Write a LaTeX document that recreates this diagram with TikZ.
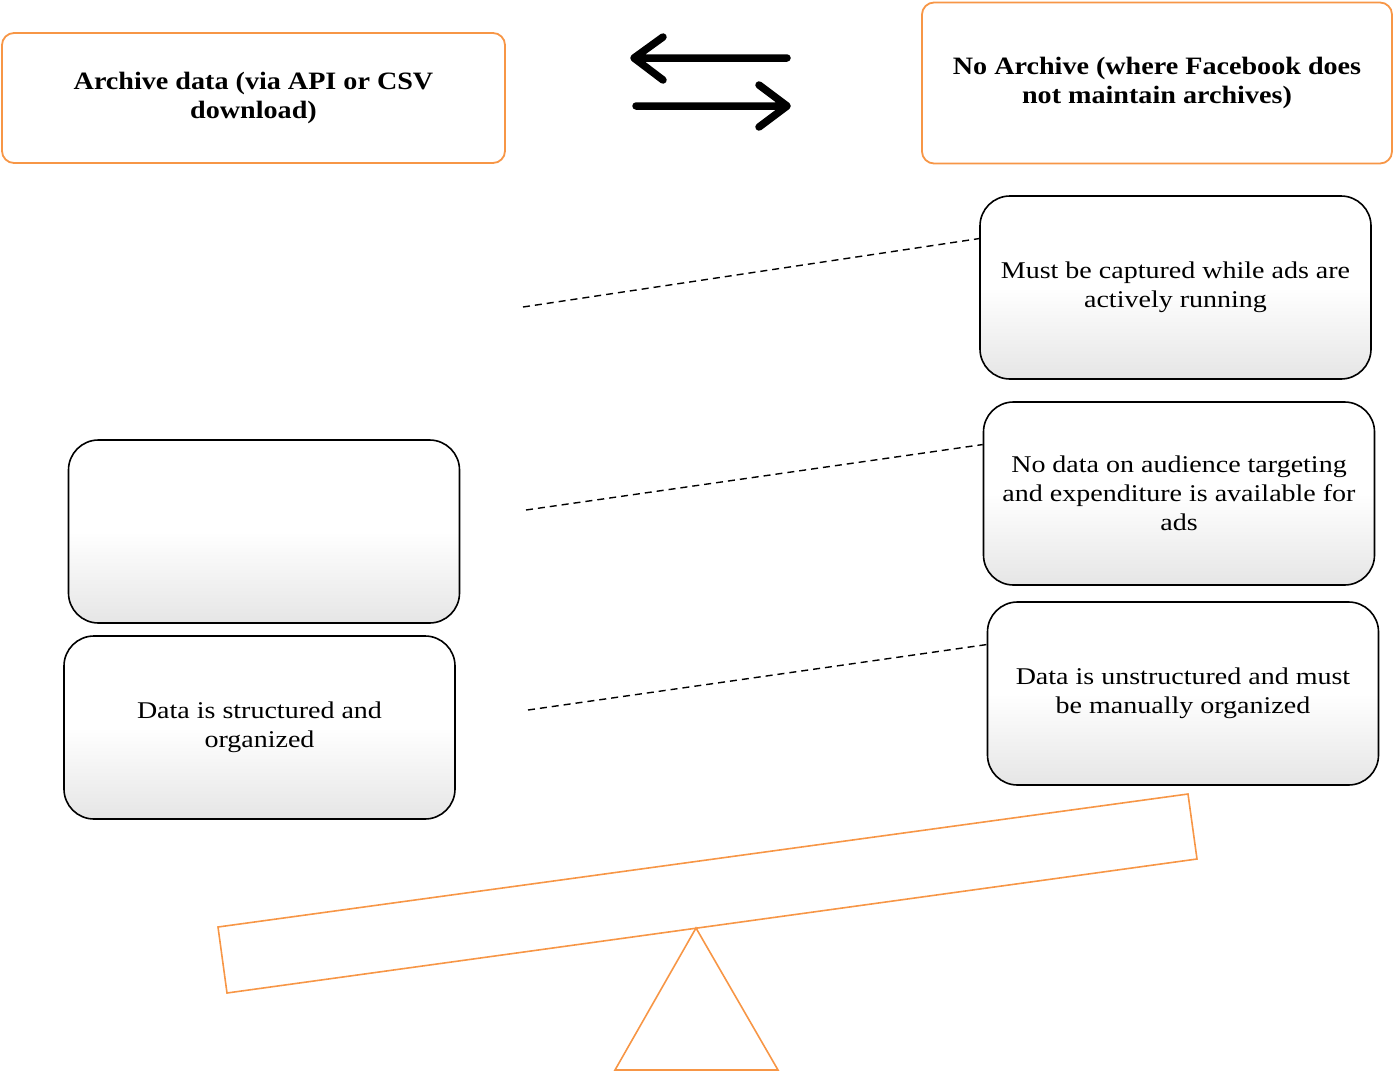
\documentclass[tikz,border=0pt]{standalone}
\usepackage{fontspec}
\setmainfont{Liberation Serif}[FakeStretch=1.167]
\newfontfamily\headfont{Liberation Serif}[FakeStretch=1.125]
\usepackage{tikz}
\usetikzlibrary{arrows,positioning}
\definecolor{peach}{RGB}{247,150,70}

\begin{document}
\begin{tikzpicture}[x=1pt,y=1pt,yscale=-1,xscale=1,
    headbox/.style={draw=peach,line width=1.8pt,rounded corners=12pt,fill=white,inner sep=0pt,align=center,font=\headfont\fontsize{25}{28.5}\selectfont\bfseries},
    itembox/.style={draw=black,line width=1.6pt,rounded corners=30pt,inner sep=0pt,align=center,minimum width=391pt,minimum height=183pt,
        top color=white,bottom color=black!10,middle color=white,font=\fontsize{24}{29}\selectfont},
    linkline/.style={dash pattern=on 7pt off 5pt,line width=1.4pt},
    swing/.style={draw=peach,line width=1.6pt,line join=miter}]
\useasboundingbox (0,0) rectangle (1393,1074);
%Header boxes
\node (archive) at (253.5,98) [headbox,minimum width=503pt,minimum height=130pt] {Archive data (via API or CSV\\download)};
\node (noarchive) at (1157,83) [headbox,minimum width=470pt,minimum height=161pt] {No Archive (where Facebook does\\not maintain archives)};
%Exchange arrows
\draw [line width=7.5pt,line cap=round,line join=round] (663,37) -- (634,58) -- (663,80) (634,58) -- (787,58);
\draw [line width=7.5pt,line cap=round,line join=round] (636,106) -- (787,106) (759,85) -- (787,106) -- (759,127);
%Right column
\node (capture) at (1175.5,287.5) [itembox] {Must be captured while ads are\\actively running};
\node (target) at (1179,493.5) [itembox] {No data on audience targeting\\and expenditure is available for\\ads};
\node (unstruct) at (1183,693.5) [itembox] {Data is unstructured and must\\be manually organized};
%Left column
\node (blank) at (264,531.5) [itembox] {};
\node (struct) at (259.5,727.5) [itembox] {Data is structured and\\organized};
%Dashed links
\coordinate (l1) at (523,307);
\coordinate (l2) at (526,510);
\coordinate (l3) at (528,710);
\draw [linkline] (l1) -- (capture.166);
\draw [linkline] (l2) -- (target.166);
\draw [linkline] (l3) -- (unstruct.166);
%Seesaw
\draw [swing] (218,927) -- (1188,794) -- (1197,859) -- (227,993) -- cycle;
\draw [swing] (696,928) -- (778,1070) -- (615,1070) -- cycle;
\end{tikzpicture}
\end{document}
